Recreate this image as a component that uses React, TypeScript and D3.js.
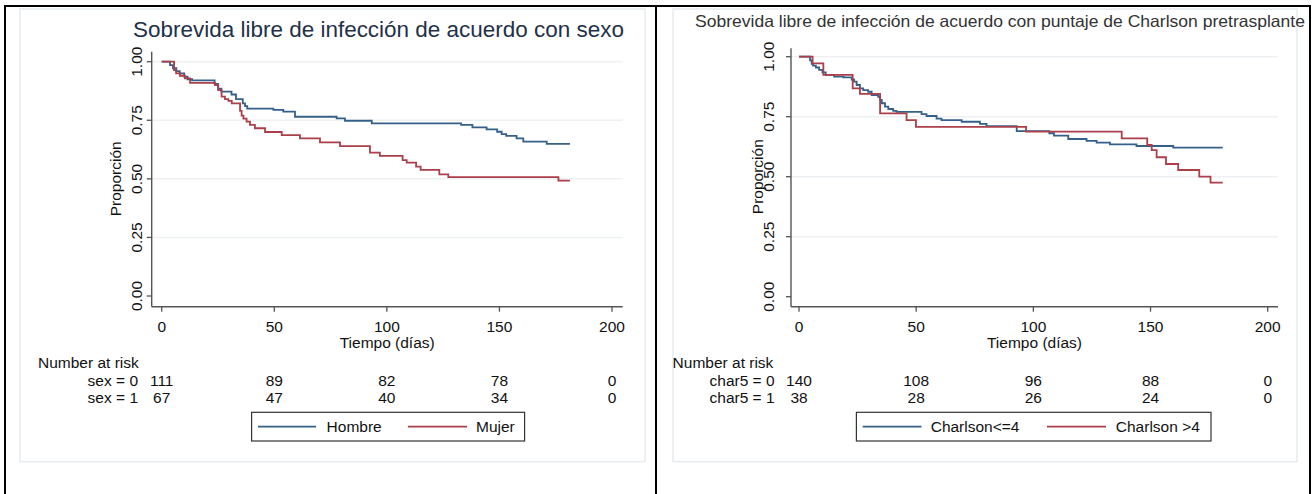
import React from "react";
import * as d3 from "d3";

// ---------- DATA ----------
const xTicks = [0, 50, 100, 150, 200];
const yTicks = [0, 0.25, 0.5, 0.75, 1];
const yTickLabels = ["0.00", "0.25", "0.50", "0.75", "1.00"];

// Left panel: by sex
const hombreT = [0, 3.7, 5.0, 6.5, 8.0, 10.0, 11.5, 13.5, 23.5, 25, 26.5, 31, 33, 36, 37, 38, 49.6, 54, 59.2, 77.7, 81.4, 93.3, 133, 138, 144.3, 149, 151, 153, 157.6, 160.6, 171];
const hombreS = [1, 0.985, 0.972, 0.96, 0.95, 0.936, 0.925, 0.92, 0.905, 0.885, 0.872, 0.86, 0.84, 0.822, 0.81, 0.8, 0.794, 0.787, 0.765, 0.758, 0.748, 0.737, 0.73, 0.72, 0.711, 0.701, 0.691, 0.683, 0.673, 0.659, 0.649];
const hombreEnd = 181.3;

const mujerT = [0, 5.5, 6.4, 8.1, 10.3, 12.6, 23.7, 25.1, 26.6, 28.1, 29.6, 31.1, 34.8, 35.5, 36.3, 37.7, 39.2, 41.4, 45.9, 53.3, 61.4, 70.3, 79.2, 92.5, 96.9, 107, 108.8, 113, 115, 123.3, 127.3, 176.2];
const mujerS = [1, 0.964, 0.95, 0.94, 0.929, 0.91, 0.9, 0.879, 0.851, 0.84, 0.833, 0.822, 0.79, 0.77, 0.757, 0.744, 0.73, 0.716, 0.7, 0.687, 0.673, 0.656, 0.64, 0.612, 0.598, 0.58, 0.569, 0.552, 0.538, 0.519, 0.507, 0.492];
const mujerEnd = 181.3;

// Right panel: by Charlson score
const charLowT = [0, 4.7, 5.4, 6.0, 7.2, 8.6, 10, 11.4, 15, 19, 22.5, 23.5, 24.6, 26, 27.4, 29.5, 31, 33.8, 34.6, 35.3, 36.7, 38.1, 40.2, 41.6, 52.3, 54.4, 58.7, 60.8, 69.4, 77.2, 80, 92.9, 106.8, 108.8, 114.9, 122.7, 127, 132.7, 144, 159.7];
const charLowS = [1, 0.985, 0.97, 0.963, 0.955, 0.945, 0.935, 0.924, 0.917, 0.914, 0.905, 0.896, 0.882, 0.868, 0.861, 0.854, 0.84, 0.833, 0.82, 0.806, 0.792, 0.782, 0.774, 0.77, 0.761, 0.753, 0.742, 0.736, 0.729, 0.72, 0.711, 0.69, 0.681, 0.671, 0.657, 0.649, 0.642, 0.635, 0.628, 0.621];
const charLowEnd = 180.8;

const charHighT = [0, 5.8, 10.4, 22.9, 26, 34.6, 45.9, 49.9, 96.9, 137.7, 148.6, 150.5, 152.6, 156.6, 161.8, 170.8, 175.6];
const charHighS = [1, 0.972, 0.924, 0.868, 0.845, 0.764, 0.736, 0.708, 0.688, 0.66, 0.632, 0.611, 0.581, 0.553, 0.528, 0.5, 0.475];
const charHighEnd = 180.8;

const riskSex0 = [111, 89, 82, 78, 0];
const riskSex1 = [67, 47, 40, 34, 0];
const riskChar0 = [140, 108, 96, 88, 0];
const riskChar1 = [38, 28, 26, 24, 0];

const FONT = "'Liberation Sans', Arial, Helvetica, sans-serif";
const BLUE = "#34608a";
const RED = "#ab3f4a";

type Series = { t: number[]; s: number[]; end: number; color: string };

function Panel(props: any) {
  const c = props.cfg;
  const x = d3.scaleLinear().domain([0, 200]).range([c.x0, c.x200]);
  const y = d3.scaleLinear().domain([0, 1]).range([c.y0, c.y1]);
  const line = d3
    .line<[number, number]>()
    .x((d) => x(d[0]))
    .y((d) => y(d[1]))
    .curve(d3.curveStepAfter);
  const fs = 15.5;
  return (
    <g fontFamily={FONT}>
      <rect x={c.gx} y={c.gy} width={c.gw} height={c.gh} fill="#fff" stroke="#e6ecef" strokeWidth={1.5} />
      <text x={c.titleX} y={c.titleY} fontSize={c.titleSize} fill={c.titleColor} textLength={c.titleLen} lengthAdjust="spacingAndGlyphs">
        {c.title}
      </text>
      {yTicks.filter((v) => v > 0).map((v) => (
        <line key={"g" + v} x1={c.axL} x2={c.axR} y1={y(v)} y2={y(v)} stroke="#eef1f4" strokeWidth={1.5} />
      ))}
      {props.series.map((sr: Series, i: number) => {
        const pts: [number, number][] = sr.t.map((t, k) => [t, sr.s[k]] as [number, number]);
        pts.push([sr.end, sr.s[sr.s.length - 1]]);
        return <path key={i} d={line(pts) || ""} fill="none" stroke={sr.color} strokeWidth={1.8} />;
      })}
      <line x1={c.axL} x2={c.axL} y1={c.axTop} y2={c.axY} stroke="#555" strokeWidth={1.4} />
      <line x1={c.axL} x2={c.axR} y1={c.axY} y2={c.axY} stroke="#555" strokeWidth={1.4} />
      {yTicks.map((v, i) => (
        <g key={"yt" + v}>
          <line x1={c.axL - 5} x2={c.axL} y1={y(v)} y2={y(v)} stroke="#555" strokeWidth={1.3} />
          <text
            transform={`translate(${c.yTickX},${y(v)}) rotate(-90)`}
            textAnchor="middle"
            dominantBaseline="central"
            fontSize={fs}
            fill="#111"
          >
            {yTickLabels[i]}
          </text>
        </g>
      ))}
      <text
        transform={`translate(${c.yLabX},${y(0.5)}) rotate(-90)`}
        textAnchor="middle"
        dominantBaseline="central"
        fontSize={fs}
        fill="#111"
      >
        Proporción
      </text>
      {xTicks.map((v) => (
        <g key={"xt" + v}>
          <line x1={x(v)} x2={x(v)} y1={c.axY} y2={c.axY + 5} stroke="#555" strokeWidth={1.3} />
          <text x={x(v)} y={c.xTickY} textAnchor="middle" dominantBaseline="central" fontSize={fs} fill="#111">
            {v}
          </text>
        </g>
      ))}
      <text x={(c.axL + c.axR) / 2} y={c.xTitleY} textAnchor="middle" dominantBaseline="central" fontSize={fs} fill="#111">
        Tiempo (días)
      </text>
      <text x={c.riskX} y={c.riskHY} dominantBaseline="central" fontSize={fs} fill="#111">
        Number at risk
      </text>
      {props.risk.map((row: number[], ri: number) => (
        <g key={"r" + ri}>
          <text x={c.rowLabX} y={c.rowY[ri]} textAnchor="end" dominantBaseline="central" fontSize={fs} fill="#111">
            {props.rowLabels[ri]}
          </text>
          {row.map((n, k) => (
            <text key={k} x={x(xTicks[k])} y={c.rowY[ri]} textAnchor="middle" dominantBaseline="central" fontSize={fs} fill="#111">
              {n}
            </text>
          ))}
        </g>
      ))}
      <rect x={c.lgX} y={c.lgY} width={c.lgW} height={c.lgH} fill="#fff" stroke="#333" strokeWidth={1.2} />
      {c.lgItems.map((it: any, i: number) => (
        <g key={"lg" + i}>
          <line x1={it.l1} x2={it.l2} y1={c.lgY + c.lgH / 2} y2={c.lgY + c.lgH / 2} stroke={props.series[i].color} strokeWidth={1.6} />
          <text x={it.tx} y={c.lgY + c.lgH / 2} dominantBaseline="central" fontSize={fs} fill="#111">
            {props.legend[i]}
          </text>
        </g>
      ))}
    </g>
  );
}

const leftCfg = {
  gx: 20, gy: 9, gw: 625, gh: 452.7,
  x0: 161.7, x200: 612, y0: 296, y1: 61.7,
  axL: 151.7, axR: 622.7, axTop: 51.7, axY: 306.7,
  title: "Sobrevida libre de infección de acuerdo con sexo",
  titleX: 133, titleY: 36.5, titleSize: 21.5, titleLen: 491, titleColor: "#1f3149",
  yLabX: 115, yTickX: 136, xTickY: 326, xTitleY: 342,
  riskX: 38, riskHY: 362, rowLabX: 138, rowY: [380, 397],
  lgX: 251.6, lgY: 412.3, lgW: 273, lgH: 28.7,
  lgItems: [
    { l1: 258, l2: 316, tx: 326.6 },
    { l1: 408, l2: 467, tx: 476 },
  ],
};

const rightCfg = {
  gx: 673, gy: 9, gw: 624, gh: 452.7,
  x0: 799, x200: 1267.7, y0: 296.7, y1: 56.7,
  axL: 791, axR: 1278, axTop: 48.3, axY: 306.7,
  title: "Sobrevida libre de infección de acuerdo con puntaje de Charlson pretrasplante",
  titleX: 695, titleY: 27, titleSize: 16.5, titleLen: 610, titleColor: "#333333",
  yLabX: 757, yTickX: 768.5, xTickY: 326, xTitleY: 342,
  riskX: 672.6, riskHY: 362, rowLabX: 774.6, rowY: [380, 397],
  lgX: 856.4, lgY: 412.3, lgW: 354.6, lgH: 28.7,
  lgItems: [
    { l1: 862.7, l2: 921.5, tx: 930.7 },
    { l1: 1047, l2: 1106, tx: 1115.8 },
  ],
};

export default function App() {
  const leftSeries: Series[] = [
    { t: hombreT, s: hombreS, end: hombreEnd, color: BLUE },
    { t: mujerT, s: mujerS, end: mujerEnd, color: RED },
  ];
  const rightSeries: Series[] = [
    { t: charLowT, s: charLowS, end: charLowEnd, color: BLUE },
    { t: charHighT, s: charHighS, end: charHighEnd, color: RED },
  ];
  return (
    <svg width={1312} height={494} style={{ position: "absolute", left: 0, top: 0, background: "#fff" }}>
      <rect x={0} y={0} width={1312} height={494} fill="#fff" />
      <Panel cfg={leftCfg} series={leftSeries} risk={[riskSex0, riskSex1]} rowLabels={["sex = 0", "sex = 1"]} legend={["Hombre", "Mujer"]} />
      <Panel cfg={rightCfg} series={rightSeries} risk={[riskChar0, riskChar1]} rowLabels={["char5 = 0", "char5 = 1"]} legend={["Charlson<=4", "Charlson >4"]} />
      <rect x={5} y={6} width={1305} height={500} fill="none" stroke="#000" strokeWidth={2} />
      <line x1={656} x2={656} y1={6} y2={494} stroke="#000" strokeWidth={2} />
    </svg>
  );
}
